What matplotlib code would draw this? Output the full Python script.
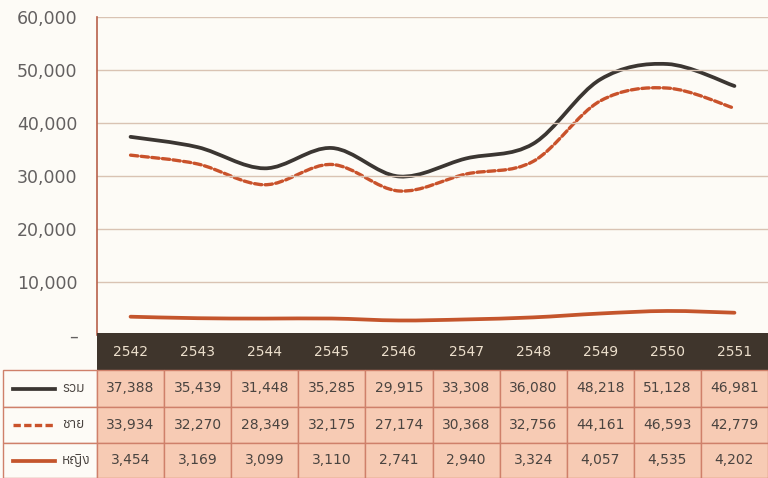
import matplotlib
matplotlib.use("Agg")
import matplotlib.pyplot as plt
from matplotlib.path import Path
from matplotlib.patches import PathPatch, Rectangle

# ---------- data ----------
years = ["2542", "2543", "2544", "2545", "2546", "2547", "2548", "2549", "2550", "2551"]
total = [37388, 35439, 31448, 35285, 29915, 33308, 36080, 48218, 51128, 46981]
male = [33934, 32270, 28349, 32175, 27174, 30368, 32756, 44161, 46593, 42779]
female = [3454, 3169, 3099, 3110, 2741, 2940, 3324, 4057, 4535, 4202]
series_names = ["รวม", "ชาย", "หญิง"]
yticks = [0, 10000, 20000, 30000, 40000, 50000, 60000]

plt.rcParams['font.family'] = ["DejaVu Sans", "Anuphan"]
thai_font = ["Anuphan", "DejaVu Sans"]

bg = "#fdfbf6"
c_total = "#3b3632"
c_male = "#c9522b"
c_female = "#c4552c"
grid_c = "#d9c3b3"
cell_c = "#f7cbb4"
border_c = "#cf806a"
head_c = "#3f352c"


def smooth_path(xs, ys):
    # catmull-rom style bezier through the points (like excel smoothed line)
    n = len(xs)
    verts = [(xs[0], ys[0])]
    codes = [Path.MOVETO]
    for i in range(n - 1):
        x0, y0 = (xs[i - 1], ys[i - 1]) if i > 0 else (xs[i], ys[i])
        x1, y1 = xs[i], ys[i]
        x2, y2 = xs[i + 1], ys[i + 1]
        x3, y3 = (xs[i + 2], ys[i + 2]) if i + 2 < n else (x2, y2)
        verts += [(x1 + (x2 - x0) / 6, y1 + (y2 - y0) / 6),
                  (x2 - (x3 - x1) / 6, y2 - (y3 - y1) / 6),
                  (x2, y2)]
        codes += [Path.CURVE4] * 3
    return Path(verts, codes)


fig = plt.figure(figsize=(7.68, 4.78), dpi=100, facecolor=bg)

# ---------- line chart ----------
ax = fig.add_axes([97 / 768, 1 - 335 / 478, 1 - 97 / 768, (335 - 17) / 478])
ax.set_facecolor(bg)
xs = [i + 0.5 for i in range(len(years))]
styles = [(total, c_total, "-", 2.7), (male, c_male, (0, (2.2, 1.0)), 2.4), (female, c_female, "-", 2.7)]
for vals, col, ls, lw in styles:
    p = PathPatch(smooth_path(xs, vals), fill=False, edgecolor=col, linestyle=ls,
                  linewidth=lw, capstyle="round", joinstyle="round")
    ax.add_patch(p)
ax.set_xlim(0, len(years))
ax.set_ylim(0, 60000)
ax.set_yticks(yticks)
ax.set_yticklabels(["–"] + [f"{v:,}" for v in yticks[1:]], fontsize=12.5, color="#636060")
ax.set_xticks([])
ax.tick_params(axis="y", length=0, pad=14)
ax.grid(axis="y", color=grid_c, linewidth=1.0)
for s in ["top", "right", "bottom"]:
    ax.spines[s].set_visible(False)
ax.spines["left"].set_color("#b8614b")
ax.spines["left"].set_linewidth(1.2)

# ---------- data table ----------
at = fig.add_axes([0, 0, 1, (478 - 333) / 478])
at.set_xlim(0, 768)
at.set_ylim(478, 333)
at.axis("off")
col_w = (768 - 97) / len(years)
row_tops = [370, 407, 443]
row_h = [37, 36, 35]
at.add_patch(Rectangle((97, 333), 768 - 97, 37, facecolor=head_c, edgecolor="none"))
for i, yr in enumerate(years):
    at.text(97 + col_w * (i + 0.5), 352, yr, ha="center", va="center", fontsize=10, color="#ecdfcc")
rows = [total, male, female]
for r, vals in enumerate(rows):
    y0 = row_tops[r]
    at.add_patch(Rectangle((3, y0), 94, row_h[r], facecolor=bg, edgecolor=border_c, linewidth=1.0))
    for i, v in enumerate(vals):
        at.add_patch(Rectangle((97 + col_w * i, y0), col_w, row_h[r], facecolor=cell_c,
                               edgecolor=border_c, linewidth=1.0))
        at.text(97 + col_w * (i + 0.5), y0 + row_h[r] / 2, f"{v:,}", ha="center", va="center",
                fontsize=10, color="#4a4440")
    col, ls, lw = styles[r][1], styles[r][2], styles[r][3]
    ym = y0 + row_h[r] / 2
    at.plot([13, 55], [ym, ym], color=col, linestyle=ls, linewidth=lw)
    at.text(62, ym, series_names[r], ha="left", va="center", fontsize=10, color="#4a4440",
            family=thai_font, fontweight="bold")

fig.savefig("out.png", dpi=100, facecolor=bg)
